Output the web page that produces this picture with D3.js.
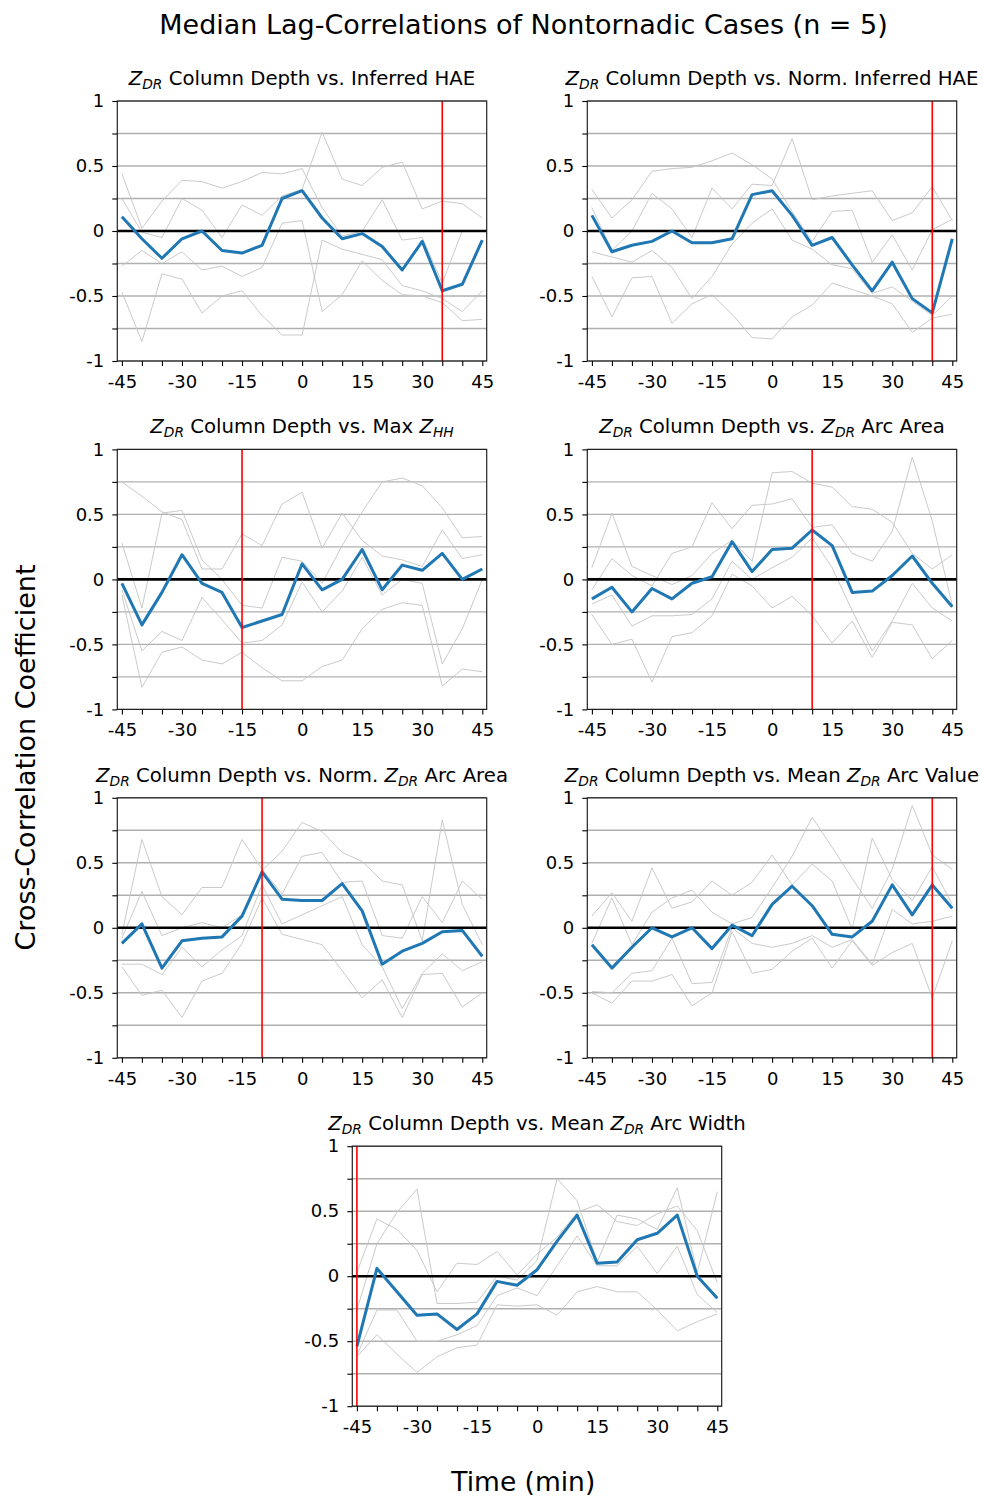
<!DOCTYPE html>
<html>
<head>
<meta charset="utf-8">
<script src="https://cdn.jsdelivr.net/npm/d3@7"></script>
<style>
  body { margin: 0; background: #fff; }
  svg { display: block; }
  text { font-family: "DejaVu Sans", "Noto Sans", sans-serif; fill: #000; }
</style>
</head>
<body>
<svg id="fig" width="982" height="1498"></svg>
<script>
// ---- data ---------------------------------------------------------------
const lags = [-45, -40, -35, -30, -25, -20, -15, -10, -5, 0, 5, 10, 15, 20, 25, 30, 35, 40, 45];
const yTicks = [-1, -0.75, -0.5, -0.25, 0, 0.25, 0.5, 0.75, 1];
const yTickLabels = { "-1": "-1", "-0.5": "-0.5", "0": "0", "0.5": "0.5", "1": "1" };
const xTickLabels = { "-45": "-45", "-30": "-30", "-15": "-15", "0": "0", "15": "15", "30": "30", "45": "45" };

const figTitle = "Median Lag-Correlations of Nontornadic Cases (n = 5)";
const yLabel = "Cross-Correlation Coefficient";
const xLabel = "Time (min)";

const panelTitles = [
  "Z_{DR} Column Depth vs. Inferred HAE",
  "Z_{DR} Column Depth vs. Norm. Inferred HAE",
  "Z_{DR} Column Depth vs. Max Z_{HH}",
  "Z_{DR} Column Depth vs. Z_{DR} Arc Area",
  "Z_{DR} Column Depth vs. Norm. Z_{DR} Arc Area",
  "Z_{DR} Column Depth vs. Mean Z_{DR} Arc Value",
  "Z_{DR} Column Depth vs. Mean Z_{DR} Arc Width"
];

// lag of the strongest median correlation in each panel
const peakLag = [35, 40, -15, 10, -10, 40, -45];

// median correlation per lag
const median1 = [0.11, -0.06, -0.21, -0.06, 0.00, -0.15, -0.17, -0.11, 0.25, 0.31, 0.10, -0.06, -0.02, -0.12, -0.30, -0.08, -0.46, -0.41, -0.07];
const median2 = [0.12, -0.16, -0.11, -0.08, 0.00, -0.09, -0.09, -0.06, 0.28, 0.31, 0.12, -0.11, -0.05, -0.26, -0.46, -0.24, -0.52, -0.63, -0.06];
const median3 = [-0.03, -0.35, -0.10, 0.19, -0.03, -0.10, -0.37, -0.32, -0.27, 0.12, -0.08, 0.00, 0.23, -0.08, 0.11, 0.07, 0.20, 0.00, 0.08];
const median4 = [-0.15, -0.06, -0.25, -0.07, -0.15, -0.03, 0.02, 0.29, 0.06, 0.23, 0.24, 0.38, 0.26, -0.10, -0.09, 0.03, 0.18, -0.03, -0.21];
const median5 = [-0.12, 0.03, -0.31, -0.10, -0.08, -0.07, 0.09, 0.43, 0.22, 0.21, 0.21, 0.34, 0.13, -0.28, -0.18, -0.12, -0.03, -0.02, -0.22];
const median6 = [-0.13, -0.31, -0.15, 0.00, -0.07, 0.00, -0.16, 0.02, -0.06, 0.18, 0.32, 0.17, -0.05, -0.07, 0.05, 0.33, 0.10, 0.33, 0.15];
const median7 = [-0.54, 0.06, -0.12, -0.30, -0.29, -0.41, -0.29, -0.04, -0.07, 0.05, 0.27, 0.47, 0.10, 0.11, 0.28, 0.33, 0.47, 0.00, -0.17];

// individual cases per panel (the median case is one of the five)
const cases1 = [
  [0.44, 0.02, 0.23, 0.39, 0.38, 0.33, 0.38, 0.45, 0.44, 0.48, 0.18, -0.04, 0.00, 0.24, -0.07, -0.05, -0.40, 0.00, 0.00],
  [0.25, -0.01, -0.05, 0.25, 0.16, -0.05, 0.20, 0.12, 0.27, 0.32, 0.76, 0.40, 0.35, 0.49, 0.53, 0.17, 0.23, 0.21, 0.10],
  median1,
  [-0.27, -0.15, -0.25, -0.16, -0.30, -0.27, -0.35, -0.28, 0.06, 0.08, -0.62, -0.49, -0.23, -0.38, -0.49, -0.50, -0.55, -0.69, -0.68],
  [-0.47, -0.85, -0.33, -0.37, -0.63, -0.50, -0.46, -0.65, -0.80, -0.80, -0.07, -0.14, -0.18, -0.22, -0.42, -0.46, -0.52, -0.62, -0.46]
];
const cases2 = [
  [0.32, 0.10, 0.24, 0.46, 0.48, 0.49, 0.54, 0.60, 0.51, 0.40, 0.15, -0.08, 0.15, 0.16, -0.24, -0.03, -0.30, 0.01, 0.09],
  [0.18, -0.15, 0.00, 0.29, 0.17, -0.05, 0.33, 0.17, 0.36, 0.35, 0.71, 0.24, 0.27, 0.29, 0.31, 0.08, 0.14, 0.34, 0.08],
  median2,
  [-0.16, -0.20, -0.24, -0.15, -0.28, -0.52, -0.35, -0.10, 0.06, 0.17, -0.07, -0.14, -0.26, -0.29, -0.48, -0.43, -0.54, -0.65, -0.50],
  [-0.35, -0.66, -0.36, -0.35, -0.71, -0.56, -0.49, -0.64, -0.82, -0.83, -0.66, -0.57, -0.40, -0.45, -0.50, -0.56, -0.78, -0.67, -0.64]
];
const cases3 = [
  [0.75, 0.64, 0.52, 0.46, 0.08, 0.08, 0.35, 0.26, 0.58, 0.67, 0.24, 0.51, 0.30, 0.18, 0.15, 0.10, 0.38, 0.16, 0.19],
  [0.28, -0.22, 0.51, 0.53, 0.15, 0.00, -0.20, -0.22, 0.17, 0.14, -0.03, 0.26, 0.52, 0.75, 0.78, 0.72, 0.55, 0.32, 0.33],
  median3,
  [-0.08, -0.55, -0.40, -0.47, -0.14, -0.31, -0.49, -0.47, -0.35, -0.02, -0.25, -0.09, 0.17, -0.12, 0.00, -0.03, -0.65, -0.38, 0.00],
  [-0.12, -0.83, -0.56, -0.52, -0.62, -0.65, -0.56, -0.68, -0.78, -0.78, -0.67, -0.62, -0.38, -0.23, -0.18, -0.20, -0.82, -0.69, -0.71]
];
const cases4 = [
  [0.09, 0.51, 0.10, 0.03, -0.04, 0.03, 0.20, 0.30, 0.14, 0.82, 0.83, 0.74, 0.71, 0.56, 0.54, 0.44, 0.20, 0.08, 0.19],
  [-0.08, 0.16, 0.03, -0.05, 0.20, 0.25, 0.59, 0.39, 0.57, 0.58, 0.62, 0.40, 0.42, 0.20, 0.14, 0.37, 0.94, 0.45, -0.20],
  median4,
  [-0.19, -0.12, -0.36, -0.28, -0.28, -0.27, -0.15, 0.14, 0.00, 0.09, 0.17, 0.32, 0.09, -0.24, -0.55, -0.32, -0.03, -0.22, -0.32],
  [-0.27, -0.50, -0.46, -0.79, -0.44, -0.41, -0.28, 0.04, -0.05, -0.22, -0.13, -0.28, -0.49, -0.32, -0.60, -0.33, -0.35, -0.61, -0.47]
];
const cases5 = [
  [-0.05, 0.68, 0.24, 0.10, 0.31, 0.31, 0.68, 0.45, 0.26, 0.55, 0.58, 0.35, 0.36, -0.06, -0.08, 0.24, 0.04, 0.36, 0.22],
  [-0.08, 0.28, -0.06, 0.00, 0.04, 0.00, 0.10, 0.44, 0.59, 0.81, 0.74, 0.58, 0.51, 0.36, 0.33, -0.10, 0.83, 0.18, -0.13],
  median5,
  [-0.28, -0.28, -0.36, -0.15, -0.30, -0.17, -0.06, 0.33, 0.03, 0.10, 0.17, 0.24, -0.13, -0.30, -0.62, -0.35, -0.20, -0.33, -0.26],
  [-0.30, -0.52, -0.48, -0.69, -0.41, -0.35, -0.12, 0.23, -0.05, -0.09, -0.13, -0.33, -0.54, -0.40, -0.69, -0.36, -0.35, -0.61, -0.50]
];
const cases6 = [
  [0.09, 0.27, 0.05, 0.46, 0.15, 0.20, 0.36, 0.25, 0.35, 0.56, 0.33, 0.49, 0.36, -0.01, 0.69, 0.37, 0.21, 0.47, 0.18],
  [-0.12, 0.23, -0.13, 0.12, 0.23, 0.29, 0.12, 0.03, 0.08, 0.31, 0.55, 0.85, 0.62, 0.38, 0.15, 0.45, 0.94, 0.56, 0.45],
  median6,
  [-0.49, -0.50, -0.35, -0.33, -0.08, -0.43, -0.42, 0.00, -0.12, -0.15, -0.12, -0.06, -0.15, -0.09, -0.28, 0.14, 0.03, 0.05, 0.09],
  [-0.50, -0.58, -0.41, -0.41, -0.36, -0.60, -0.50, -0.03, -0.35, -0.32, -0.18, -0.08, -0.31, -0.10, -0.29, -0.19, -0.12, -0.54, -0.10]
];
const cases7 = [
  [0.03, 0.44, 0.36, 0.20, -0.12, 0.10, 0.09, 0.19, 0.01, 0.17, 0.30, 0.49, 0.55, 0.42, 0.39, 0.48, 0.54, 0.35, -0.05],
  [-0.26, 0.25, 0.49, 0.67, -0.21, -0.21, -0.20, 0.00, -0.03, 0.12, 0.75, 0.58, 0.11, 0.47, 0.44, 0.36, 0.68, 0.03, 0.65],
  median7,
  [-0.61, -0.26, -0.26, -0.50, -0.50, -0.45, -0.38, -0.15, -0.09, -0.15, 0.08, 0.31, 0.08, 0.08, 0.23, 0.02, 0.23, -0.14, -0.28],
  [-0.62, -0.45, -0.60, -0.74, -0.62, -0.55, -0.53, -0.22, -0.23, -0.22, -0.30, -0.12, -0.08, -0.12, -0.12, -0.26, -0.42, -0.35, -0.29]
];

const medians = [median1, median2, median3, median4, median5, median6, median7];
const cases = [cases1, cases2, cases3, cases4, cases5, cases6, cases7];

// ---- layout -------------------------------------------------------------
const W = 369.4, H = 260;
const colLeft = [117.3, 587.3];
const centreLeft = 352.3;
const firstTop = 101, rowStep = 348.4;

const svg = d3.select("#fig");

// writes "Z_{DR}" style text as italic Z with italic subscript
function mathText(sel, str, size) {
  const parts = str.split(/(Z_\{[A-Z]+\})/).filter(s => s.length);
  let shifted = false;
  parts.forEach(p => {
    const m = p.match(/^Z_\{([A-Z]+)\}$/);
    if (m) {
      sel.append("tspan").attr("font-style", "italic").attr("dy", shifted ? -4 : 0).text("Z");
      sel.append("tspan").attr("font-style", "italic").attr("font-size", size * 0.7).attr("dy", 4).text(m[1]);
      shifted = true;
    } else {
      sel.append("tspan").attr("dy", shifted ? -4 : 0).text(p);
      shifted = false;
    }
  });
}

medians.forEach((med, i) => {
  const row = Math.floor(i / 2);
  const left = i === 6 ? centreLeft : colLeft[i % 2];
  const top = firstTop + row * rowStep;

  const x = d3.scaleLinear().domain([-46.15, 46.1]).range([0, W]);
  const y = d3.scaleLinear().domain([-1, 1]).range([H, 0]);

  const g = svg.append("g").attr("transform", `translate(${left},${top})`);

  // horizontal grid
  g.append("g").selectAll("line").data(yTicks).join("line")
    .attr("x1", 0).attr("x2", W)
    .attr("y1", d => y(d)).attr("y2", d => y(d))
    .attr("stroke", "#b0b0b0").attr("stroke-width", 1.4);

  const line = d3.line().x((d, j) => x(lags[j])).y(d => y(d));

  // individual cases
  g.append("g").selectAll("path").data(cases[i]).join("path")
    .attr("d", line).attr("fill", "none")
    .attr("stroke", "#c4c4c4").attr("stroke-width", 0.9);

  // zero line
  g.append("line").attr("x1", 0).attr("x2", W)
    .attr("y1", y(0)).attr("y2", y(0))
    .attr("stroke", "#000").attr("stroke-width", 2.6);

  // median
  g.append("path").datum(med).attr("d", line).attr("fill", "none")
    .attr("stroke", "#1f77b4").attr("stroke-width", 3)
    .attr("stroke-linejoin", "round");

  // lag of peak correlation
  g.append("line").attr("x1", x(peakLag[i])).attr("x2", x(peakLag[i]))
    .attr("y1", 0).attr("y2", H)
    .attr("stroke", "#ff0000").attr("stroke-width", 1.6);

  // frame
  g.append("rect").attr("x", 0).attr("y", 0).attr("width", W).attr("height", H)
    .attr("fill", "none").attr("stroke", "#222").attr("stroke-width", 1.2);

  // axes
  const yAxis = d3.axisLeft(y).tickValues(yTicks).tickSize(5).tickPadding(8)
    .tickFormat(d => yTickLabels[String(d)] || "");
  const ya = g.append("g").call(yAxis);
  const xAxis = d3.axisBottom(x).tickValues(lags).tickSize(5).tickPadding(9)
    .tickFormat(d => xTickLabels[String(d)] || "");
  const xa = g.append("g").attr("transform", `translate(0,${H})`).call(xAxis);
  [ya, xa].forEach(a => {
    a.select(".domain").remove();
    a.selectAll(".tick line").attr("stroke", "#000").attr("stroke-width", 1.1);
    a.selectAll(".tick text").attr("font-size", 18).attr("font-family", "DejaVu Sans").attr("fill", "#000");
  });

  // panel title
  const t = g.append("text").attr("x", W / 2).attr("y", -16)
    .attr("text-anchor", "middle").attr("font-size", 19.7);
  mathText(t, panelTitles[i], 19.7);
});

// figure title and shared axis labels
svg.append("text").attr("x", 523.5).attr("y", 34).attr("text-anchor", "middle")
  .attr("font-size", 27).text(figTitle);
svg.append("text").attr("transform", "translate(35,757.5) rotate(-90)")
  .attr("text-anchor", "middle").attr("font-size", 27).text(yLabel);
svg.append("text").attr("x", 523.3).attr("y", 1491).attr("text-anchor", "middle")
  .attr("font-size", 26.5).text(xLabel);
</script>
</body>
</html>
